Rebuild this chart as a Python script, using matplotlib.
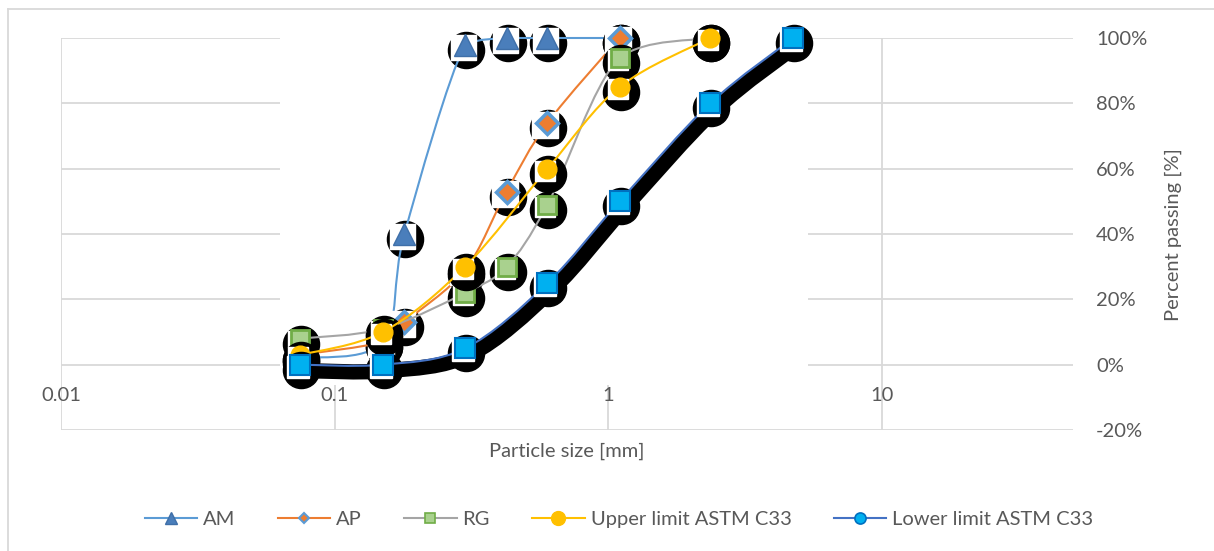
import numpy as np
import matplotlib
matplotlib.use("Agg")
import matplotlib.pyplot as plt
from matplotlib.path import Path
from matplotlib.patches import PathPatch, Rectangle
from matplotlib.lines import Line2D
from matplotlib.transforms import ScaledTranslation
from matplotlib.ticker import FixedLocator, FixedFormatter, NullLocator

plt.rcParams["font.family"] = ["Lato", "DejaVu Sans"]

# sieve size [mm] and percent passing
am_size = [0.075, 0.15, 0.18, 0.3, 0.425, 0.6, 1.1]
am_pass = [2, 7, 40, 98, 100, 100, 100]
ap_size = [0.075, 0.15, 0.18, 0.3, 0.425, 0.6, 1.1]
ap_pass = [3, 7, 13, 29, 53, 74, 100]
rg_size = [0.075, 0.15, 0.3, 0.425, 0.6, 1.1, 2.36]
rg_pass = [8, 11, 22, 30, 49, 94, 100]
upper_size = [0.075, 0.15, 0.3, 0.6, 1.1, 2.36]
upper_pass = [3, 10, 30, 60, 85, 100]
lower_size = [0.075, 0.15, 0.3, 0.6, 1.1, 2.36, 4.75]
lower_pass = [0, 0, 5, 25, 50, 80, 100]

x_ticks = [0.01, 0.1, 1, 10]
x_tick_labels = ["0.01", "0.1", "1", "10"]
y_ticks = [-20, 0, 20, 40, 60, 80, 100]
y_tick_labels = [f"{v}%" for v in y_ticks]

TEXT = "#595959"
GRID = "#D9D9D9"
FS = 14.5
DPI = 100
W, H = 1214, 551


def smooth_path(xs, ys):
    """Excel-like smoothed line: cubic Bezier through the points, built in log-x space."""
    lx = np.log10(np.asarray(xs, float))
    y = np.asarray(ys, float)
    top = y.max()
    n = len(lx)
    verts = [(xs[0], y[0])]
    codes = [Path.MOVETO]
    for i in range(n - 1):
        a, b = max(i - 1, 0), min(i + 2, n - 1)
        c1 = (lx[i] + (lx[i + 1] - lx[a]) / 6, min(top, y[i] + (y[i + 1] - y[a]) / 6))
        c2 = (lx[i + 1] - (lx[b] - lx[i]) / 6, min(top, y[i + 1] - (y[b] - y[i]) / 6))
        verts += [(10 ** c1[0], c1[1]), (10 ** c2[0], c2[1]), (xs[i + 1], y[i + 1])]
        codes += [Path.CURVE4] * 3
    return Path(verts, codes)


fig = plt.figure(figsize=(W / DPI, H / DPI), dpi=DPI)
ax = fig.add_axes([61 / W, 1 - 430 / H, 1012 / W, 392 / H])


def shifted(dx, dy):
    return ax.transData + ScaledTranslation(dx / DPI, dy / DPI, fig.dpi_scale_trans)


series = [
    (am_size, am_pass, "AM", "#5B9BD5",
     dict(marker="^", ms=16.5, mfc="#4A7EBB", mec="#3F6FA8", mew=1.0), 18,
     dict(marker="^", ms=8, mfc="#4A7EBB", mec="#3F6FA8")),
    (ap_size, ap_pass, "AP", "#ED7D31",
     dict(marker="D", ms=11.5, mfc="#ED7D31", mec="#5B9BD5", mew=2.5), 19,
     dict(marker="D", ms=5, mfc="#ED7D31", mec="#5B9BD5", mew=1.5)),
    (rg_size, rg_pass, "RG", "#A5A5A5",
     dict(marker="s", ms=12.5, mfc="#A9D18E", mec="#70AD47", mew=2.0), 15,
     dict(marker="s", ms=7, mfc="#A9D18E", mec="#70AD47", mew=1.2)),
    (upper_size, upper_pass, "Upper limit ASTM C33", "#FFC000",
     dict(marker="o", ms=13.5, mfc="#FFC000", mec="#FFC000", mew=1.0), 15,
     dict(marker="o", ms=10, mfc="#FFC000", mec="#FFC000")),
    (lower_size, lower_pass, "Lower limit ASTM C33", "#4472C4",
     dict(marker="s", ms=14, mfc="#00B0F0", mec="#0070C0", mew=1.5), 16,
     dict(marker="o", ms=8, mfc="#00B0F0", mec="#0070C0", mew=1.2)),
]

handles = []
for k, (xs, ys, label, color, mk, patch_ms, leg_mk) in enumerate(series):
    z = 3 + k
    path = smooth_path(xs, ys)
    if label.startswith("Lower"):
        ax.add_patch(PathPatch(path, fill=False, ec="black", lw=11, capstyle="round",
                               joinstyle="round", transform=shifted(5, -6), zorder=z,
                               clip_on=False))
    # black shadow blobs behind the markers
    ax.plot(xs, ys, ls="none", marker="o", ms=26, mfc="black", mec="black",
            transform=shifted(1, -5), zorder=z + 0.1, clip_on=False)
    ax.add_patch(PathPatch(path, fill=False, ec=color, lw=1.5, transform=ax.transData,
                           zorder=z + 0.2, clip_on=False))
    ax.plot(xs, ys, ls="none", marker="s", ms=patch_ms, mfc="white", mec="white",
            transform=shifted(-2, -2), zorder=z + 0.3, clip_on=False)
    ax.plot(xs, ys, ls="none", zorder=z + 0.4, clip_on=False, **mk)
    handles.append(Line2D([], [], color=color, lw=1.5, **leg_mk))

ax.set_xscale("log")
ax.set_xlim(0.01, 50)
ax.set_ylim(-20, 100)
ax.xaxis.set_major_locator(FixedLocator(x_ticks))
ax.xaxis.set_major_formatter(FixedFormatter(x_tick_labels))
ax.xaxis.set_minor_locator(NullLocator())
ax.yaxis.set_major_locator(FixedLocator(y_ticks))
ax.yaxis.set_major_formatter(FixedFormatter(y_tick_labels))
ax.grid(True, color=GRID, lw=1.3)
ax.set_axisbelow(True)
for spine in ax.spines.values():
    spine.set_visible(False)
ax.spines["bottom"].set_position(("data", 0))
ax.yaxis.tick_right()
ax.tick_params(axis="x", length=0, pad=16, labelsize=FS, labelcolor=TEXT)
ax.tick_params(axis="y", length=0, pad=16.5, labelsize=FS, labelcolor=TEXT)

# white area that hides the gridlines in the middle of the plot
ax.add_patch(Rectangle((0.216, 0.115), 0.522, 0.95, transform=ax.transAxes,
                       fc="white", ec="none", zorder=1, clip_on=False))

ax.set_xlabel("Particle size [mm]", fontsize=FS, color=TEXT)
ax.xaxis.set_label_coords(0.5, (430 - 451) / 392)
ax.xaxis.label.set_va("center")
ax.set_ylabel("Percent passing [%]", fontsize=FS, color=TEXT)
ax.yaxis.set_label_position("right")
ax.yaxis.set_label_coords((1173 - 61) / 1012, (430 - 235) / 392)
ax.yaxis.label.set_va("center")
ax.yaxis.label.set_ha("center")

fig.legend(handles, [s[2] for s in series], loc="center", ncol=5, frameon=False,
           bbox_to_anchor=(619 / W, 1 - 519 / H), fontsize=FS, labelcolor=TEXT,
           handlelength=2.6, handletextpad=0.3, columnspacing=2.1, numpoints=1)

# chart frame (top and left edges are visible in the crop)
fig.add_artist(Line2D([8 / W, 1], [1 - 9 / H] * 2, transform=fig.transFigure, color=GRID, lw=1.3))
fig.add_artist(Line2D([8 / W] * 2, [0, 1 - 9 / H], transform=fig.transFigure, color=GRID, lw=1.3))

fig.savefig("out.png", dpi=DPI, facecolor="white")
